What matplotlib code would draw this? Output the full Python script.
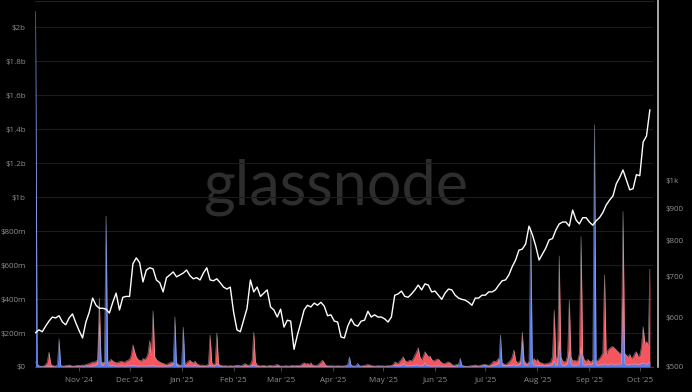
import numpy as np
import pandas as pd
import matplotlib
matplotlib.use("Agg")
import matplotlib.pyplot as plt
import matplotlib.dates as mdates
from matplotlib.lines import Line2D
from matplotlib.ticker import FixedLocator, FuncFormatter, NullLocator

start = "2024-10-06"

# price, one value every 2 days ($)
price = [568, 574, 570, 582, 593, 602, 600, 605, 591, 585,
         600, 609, 589, 572, 557, 591, 613, 646, 629, 622,
         622, 620, 611, 636, 658, 618, 648, 650, 650, 734,
         750, 737, 686, 717, 723, 720, 691, 684, 661, 697,
         704, 712, 699, 704, 709, 717, 702, 694, 697, 691,
         709, 723, 691, 689, 694, 684, 673, 668, 673, 613,
         574, 570, 595, 622, 691, 661, 673, 650, 658, 666,
         625, 618, 602, 620, 580, 595, 593, 534, 563, 589,
         618, 629, 625, 634, 629, 636, 627, 605, 607, 593,
         591, 559, 557, 582, 598, 585, 582, 593, 595, 615,
         602, 607, 602, 602, 598, 591, 602, 653, 656, 663,
         650, 648, 656, 666, 678, 666, 681, 678, 661, 663,
         653, 643, 658, 668, 666, 653, 646, 643, 641, 636,
         629, 646, 646, 653, 653, 661, 661, 666, 678, 689,
         691, 704, 726, 744, 772, 775, 790, 844, 818, 784,
         744, 761, 778, 802, 806, 832, 851, 857, 857, 844,
         896, 864, 851, 871, 871, 857, 847, 861, 871, 888,
         913, 930, 944, 988, 1011, 1040, 1002, 966, 970, 1022,
         1018, 1154, 1180, 1300]

# daily short liquidations ($m), Oct 6 2024 .. Oct 7 2025
short_liq = (
    [2090, 20, 5, 4, 3, 4, 5, 6, 4, 3, 4, 5, 4, 12, 165, 10, 4, 3, 4, 5, 6, 4, 3, 5, 4, 6]
    + [5, 6, 4, 5, 8, 6, 5, 4, 6, 8, 10, 20, 250, 15, 8, 20, 888, 25, 10, 6,
       10, 8, 5, 6, 5, 8, 6, 5, 6, 8]
    + [6, 8, 10, 8, 6, 5, 6, 5, 8, 6, 5, 6, 8, 6, 10, 6, 5, 4, 5, 6,
       5, 4, 5, 6, 8, 10, 15, 295, 10, 6, 5]
    + [10, 235, 10, 5, 6, 8, 5, 6, 10, 5, 4, 5, 4, 5, 4, 5, 6, 10, 6, 5,
       8, 15, 10, 5, 4, 5, 4, 3, 4, 5, 4]
    + [4, 5, 6, 8, 5, 4, 5, 6, 4, 5, 6, 8, 10, 6, 4, 3, 4, 5, 4, 3,
       4, 5, 4, 5, 4, 3, 4, 5]
    + [4, 3, 4, 5, 4, 3, 4, 5, 6, 4, 3, 4, 5, 6, 5, 4, 6, 5, 4, 3,
       4, 5, 4, 5, 6, 5, 4, 3, 4, 5, 4]
    + [4, 5, 4, 3, 4, 5, 4, 6, 5, 15, 60, 10, 5, 4, 8, 22, 6, 4, 3, 4,
       5, 4, 3, 4, 5, 4, 3, 4, 5, 6]
    + [5, 4, 5, 4, 5, 6, 8, 10, 8, 6, 8, 10, 20, 12, 8, 6, 8, 10, 8, 10,
       15, 10, 8, 6, 10, 25, 10, 8, 6, 5, 6]
    + [6, 5, 8, 6, 5, 4, 5, 6, 5, 4, 5, 4, 5, 6, 15, 51, 10, 5, 4, 3,
       4, 5, 4, 5, 6, 5, 4, 6, 8, 10]
    + [8, 6, 5, 6, 8, 10, 12, 15, 20, 188, 12, 8, 6, 8, 10, 8, 10, 15, 8, 10,
       12, 20, 150, 15, 10, 12, 20, 820, 25, 12, 10]
    + [10, 8, 10, 8, 6, 8, 10, 8, 10, 15, 35, 10, 12, 150, 20, 10, 8, 12, 20, 94,
       15, 10, 12, 10, 12, 20, 116, 20, 10, 12, 15]
    + [15, 12, 20, 1424, 15, 10, 12, 15, 12, 20, 15, 12, 15, 20, 15, 12, 15, 18, 15, 20,
       400, 25, 15, 12, 15, 18, 15, 20, 15, 12]
    + [15, 20, 25, 20, 15, 20, 30]
)

# daily long liquidations ($m)
long_liq = (
    [30, 10, 6, 5, 4, 6, 15, 30, 88, 20, 8, 6, 5, 6, 8, 6, 5, 6, 8, 10, 12, 8, 6, 5, 8, 10]
    + [8, 10, 12, 10, 15, 18, 20, 25, 30, 28, 35, 40, 405, 30, 28, 25, 20, 30, 35, 45,
       35, 30, 25, 28, 30, 35, 30, 28, 35, 40]
    + [45, 70, 130, 90, 60, 45, 40, 35, 50, 45, 55, 80, 155, 70, 330, 60, 45, 35, 30, 25,
       22, 18, 15, 20, 25, 30, 25, 20, 25, 15, 10]
    + [10, 8, 15, 25, 35, 40, 30, 25, 35, 20, 15, 10, 12, 10, 8, 10, 20, 188, 25, 15,
       20, 200, 20, 10, 8, 6, 8, 6, 5, 8, 6]
    + [6, 8, 10, 8, 6, 10, 15, 20, 12, 10, 15, 40, 205, 30, 12, 8, 6, 8, 10, 6,
       5, 8, 10, 6, 8, 12, 15, 10]
    + [5, 6, 5, 8, 6, 5, 8, 10, 6, 8, 10, 8, 12, 20, 25, 18, 22, 15, 25, 12,
       10, 8, 12, 20, 30, 40, 25, 10, 8, 6, 8]
    + [6, 5, 6, 8, 6, 5, 6, 5, 8, 10, 6, 8, 6, 5, 6, 8, 6, 5, 8, 10,
       12, 15, 12, 8, 6, 5, 6, 8, 6, 5]
    + [6, 5, 6, 8, 6, 8, 15, 30, 25, 20, 35, 45, 60, 40, 30, 35, 40, 35, 50, 70,
       90, 113, 60, 40, 65, 90, 75, 60, 65, 45, 35]
    + [40, 45, 47, 35, 25, 20, 22, 27, 30, 25, 15, 10, 12, 15, 10, 5, 8, 6, 5, 4,
       5, 6, 8, 10, 12, 8, 6, 10, 12, 15]
    + [15, 12, 10, 15, 25, 35, 30, 40, 50, 20, 25, 18, 15, 20, 30, 40, 60, 100, 40, 25,
       30, 40, 205, 40, 25, 20, 30, 10, 40, 50, 35]
    + [45, 30, 25, 22, 18, 20, 22, 25, 30, 60, 335, 50, 60, 653, 60, 35, 30, 35, 70, 394,
       60, 35, 40, 35, 40, 80, 766, 70, 40, 35, 45]
    + [35, 30, 40, 35, 35, 40, 50, 65, 85, 541, 70, 100, 110, 118, 120, 110, 100, 90, 80, 85,
       914, 80, 70, 60, 75, 50, 60, 80, 90, 60]
    + [70, 120, 237, 140, 150, 130, 575]
)

days = pd.date_range(start, periods=len(short_liq), freq="D")
price_days = pd.date_range(start, periods=len(price), freq="2D")

blue = "#5a7bec"
red = "#f5555f"
txt = "#8e8e8e"

W, H = 692, 392
fig = plt.figure(figsize=(W / 100, H / 100), dpi=100, facecolor="black")
ax = fig.add_axes([35 / W, 25 / H, 618 / W, 366 / H])
ax.set_facecolor("black")

# watermark
ax.text(336 / W, 187 / H, "glassnode", transform=fig.transFigure, ha="center",
        va="baseline", fontsize=44, family="Lato", color="#2d2d2d", zorder=0.5)

ax.fill_between(days, 0, long_liq, color=red, lw=0, zorder=2)
ax.plot(days, long_liq, color="#d8c8cc", lw=0.5, alpha=0.55, zorder=2.1)
ax.fill_between(days, 0, short_liq, color=blue, lw=0, zorder=3)
ax.plot(days, short_liq, color="#c8cce0", lw=0.5, alpha=0.55, zorder=3.1)

ax.set_ylim(0, 2153)
ax.yaxis.set_major_locator(FixedLocator(np.arange(0, 2001, 200)))


def money(v, pos):
    if v == 0:
        return "$0"
    if v < 1000:
        return f"${v:.0f}m"
    return f"${v / 1000:g}b"


ax.yaxis.set_major_formatter(FuncFormatter(money))
ax.grid(axis="y", color="#1b1b1b", lw=0.8)
ax.set_axisbelow(True)
ax.tick_params(axis="y", length=0, pad=6.5, labelsize=5.8, labelcolor=txt)

ax.set_xlim(pd.Timestamp("2024-10-05 16:00"), pd.Timestamp("2025-10-08 21:00"))
ax.xaxis.set_major_locator(mdates.MonthLocator())
ax.xaxis.set_major_formatter(mdates.DateFormatter("%b '%y"))
ax.tick_params(axis="x", length=3, color="#444444", pad=4, labelsize=5.8, labelcolor=txt)

for s in ["left", "right"]:
    ax.spines[s].set_visible(False)
ax.spines["bottom"].set_color("#3a3a3a")
ax.spines["top"].set_color("#222222")

ax2 = ax.twinx()
ax2.plot(price_days, price, color="white", lw=1.0, zorder=5)
ax2.set_yscale("log")
ax2.set_ylim(500, 1949)
ax2.yaxis.set_major_locator(FixedLocator([500, 600, 700, 800, 900, 1000]))
ax2.yaxis.set_minor_locator(NullLocator())
ax2.yaxis.set_major_formatter(FuncFormatter(lambda v, p: "$1k" if v >= 1000 else f"${v:.0f}"))
ax2.tick_params(axis="y", length=0, pad=9, labelsize=5.8, labelcolor=txt)
for s in ax2.spines.values():
    s.set_visible(False)

fig.add_artist(Line2D([658 / W, 658 / W], [25 / H, 1.0], color="#d6d6d6", lw=1.1))

for t in ax.get_yticklabels() + ax.get_xticklabels() + ax2.get_yticklabels():
    t.set_family("Open Sans")

fig.savefig("out.png", dpi=100, facecolor="black")
